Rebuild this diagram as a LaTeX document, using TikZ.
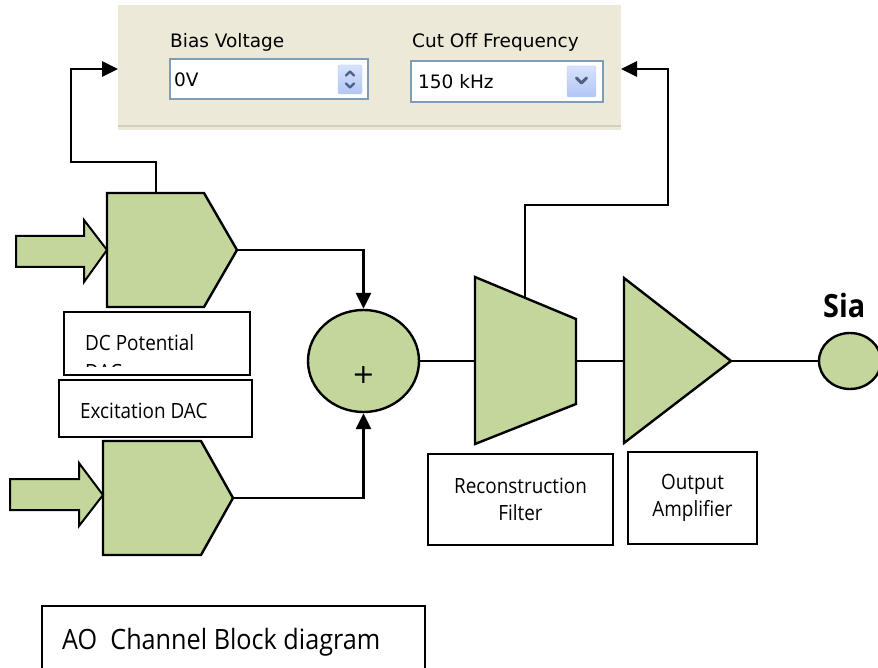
\documentclass[tikz,border=0pt]{standalone}
\usepackage{fontspec}
\setmainfont{Open Sans}[FakeStretch=0.9]
\newfontfamily\guifont{DejaVu Sans}
\usetikzlibrary{arrows.meta,shapes.geometric}
\definecolor{sgreen}{HTML}{C3D69B}
\definecolor{guibg}{HTML}{ECE9D8}
\definecolor{guiline}{HTML}{D3CFBF}
\definecolor{guiborder}{HTML}{7F9DB9}
\definecolor{btntop}{HTML}{D6E2FD}
\definecolor{btnbot}{HTML}{B2C6F5}
\definecolor{btnedge}{HTML}{B9CBF3}
\definecolor{chev}{HTML}{4D6185}
\tikzset{
  conn/.style={line width=2.8pt, black},
  arr/.style={conn, -{Triangle[length=16pt,width=15pt]}},
  greenshape/.style={fill=sgreen, draw=black, line width=2.4pt, line join=miter},
  lbl/.style={draw=black, line width=2.5pt, inner sep=0pt, outer sep=0pt},
  lbltext/.style={font=\fontsize{21}{27}\selectfont, inner sep=0pt},
  guitext/.style={font=\guifont\fontsize{18.5}{20}\selectfont, inner sep=0pt},
  guibox/.style={draw=guiborder, fill=white, line width=1.6pt, inner sep=0pt},
  btn/.style={draw=btnedge, top color=btntop, bottom color=btnbot, rounded corners=2pt, inner sep=0pt},
  chevron/.style={draw=chev, line width=2.4pt, line cap=round, line join=round},
}
\begin{document}
\begin{tikzpicture}[x=1pt,y=-1pt]
\useasboundingbox (0,0) rectangle (878,668);
\fill[white] (0,0) rectangle (878,668);
% ---- GUI panel ----
\fill[guibg] (118,5) rectangle (621,130);
\draw[guiline, line width=1.5pt] (118,126) -- (621,126);
\node[guitext, anchor=west] (biaslbl) at (170,42) {Bias Voltage};
\node[guitext, anchor=west] (cutlbl) at (412,42) {Cut Off Frequency};
\node[guibox, minimum width=198pt, minimum height=40pt] (biasbox) at (269,79) {};
\node[guitext, anchor=west] (biasval) at (174,80) {0V};
\node[btn, minimum width=24pt, minimum height=29pt] (spin) at (350,79.5) {};
\draw[chevron] (346,75.5) -- (350,71.5) -- (354,75.5);
\draw[chevron] (346,83.5) -- (350,87.5) -- (354,83.5);
\node[guibox, minimum width=192pt, minimum height=41pt] (cutbox) at (507,81.5) {};
\node[guitext, anchor=west] (cutval) at (418,82) {150 kHz};
\node[btn, minimum width=29pt, minimum height=31pt] (drop) at (581.5,81.5) {};
\draw[chevron, line width=3pt] (576.5,78) -- (581.5,83) -- (586.5,78);
\coordinate (panelL) at (118,69);
\coordinate (panelR) at (621,69);
% ---- DACs ----
\path[greenshape] (107,193) -- (204,193) -- (237,250) -- (204,307) -- (107,307) -- cycle;
\path[greenshape, line width=2pt] (16,236) -- (84,236) -- (84,220) -- (107,250) -- (84,282) -- (84,267) -- (16,267) -- cycle;
\coordinate (dac1top) at (156,193);
\coordinate (dac1out) at (237,250);
\path[greenshape] (103,441) -- (201,441) -- (233,498) -- (201,555) -- (103,555) -- cycle;
\path[greenshape, line width=2pt] (10,479) -- (79,479) -- (79,463) -- (103,495) -- (79,526) -- (79,510) -- (10,510) -- cycle;
\coordinate (dac2out) at (233,498);
% ---- labels ----
\node[lbl, minimum width=186pt, minimum height=63pt] (dcbox) at (157,343.5) {};
\begin{scope}
  \clip (64,312) rectangle (250,366);
  \node[lbltext, anchor=base west] (dcline1) at (85,350) {DC Potential};
  \node[lbltext, anchor=base west] (dcline2) at (85,379) {DAC};
\end{scope}
\node[lbl, minimum width=193pt, minimum height=57pt] (excbox) at (155.5,408.5) {};
\node[lbltext, anchor=west] (exctext) at (80,411) {Excitation DAC};
% ---- summer ----
\node[ellipse, draw, fill=sgreen, line width=2.4pt, minimum width=111pt, minimum height=102pt, inner sep=0pt] (sum) at (363.5,361) {};
\node[font=\guifont\fontsize{27}{27}\selectfont, inner sep=0pt] (plus) at (363.5,375.5) {+};
% ---- filter & amp ----
\path[greenshape] (475,277) -- (576,319) -- (576,404) -- (475,444) -- cycle;
\coordinate (filterin) at (475,361);
\coordinate (filterout) at (576,361);
\coordinate (filtertop) at (525,298);
\path[greenshape] (624,278) -- (731,361) -- (624,443) -- cycle;
\coordinate (ampin) at (624,361);
\coordinate (ampout) at (731,361);
\node[lbl, lbltext, minimum width=185pt, minimum height=91pt, align=center] (recbox) at (520.5,499.5) {Reconstruction\\Filter};
\node[lbl, lbltext, minimum width=129pt, minimum height=92pt, align=center] (outbox) at (692.5,498) {Output\\Amplifier};
% ---- signal ----
\node[ellipse, draw, fill=sgreen, line width=2.4pt, minimum width=62pt, minimum height=56pt, inner sep=0pt] (sig) at (850,361) {};
\node[font=\bfseries\fontsize{32}{34}\selectfont, inner sep=0pt, anchor=base west] (sigtext) at (823,318) {Sia};
% ---- title box ----
\node[lbl, minimum width=383pt, minimum height=80pt, anchor=north west] (aobox) at (42,606) {};
\node[font=\fontsize{28}{32}\selectfont, inner sep=0pt, anchor=west] (aotext) at (62,642) {AO\ \ Channel Block diagram};
% ---- connectors ----
\coordinate (lbend) at (71,162);
\coordinate (rbend) at (668,205);
\draw[arr] (dac1top) |- (lbend) |- (panelL);
\draw[arr] (filtertop) |- (rbend) |- (panelR);
\draw[arr] (dac1out) -| (sum.north);
\draw[arr] (dac2out) -| (sum.south);
\draw[conn] (sum.east) -- (filterin);
\draw[conn] (filterout) -- (ampin);
\draw[conn] (ampout) -- (sig.west);
\end{tikzpicture}
\end{document}
